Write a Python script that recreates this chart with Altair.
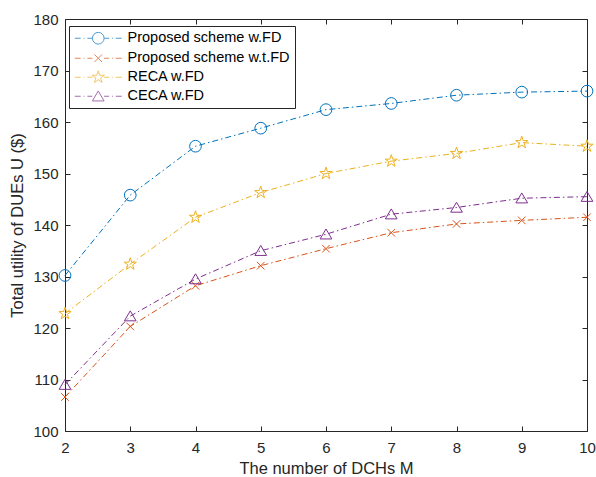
import altair as alt
import pandas as pd

M = [2, 3, 4, 5, 6, 7, 8, 9, 10]
series_names = ["Proposed scheme w.FD", "Proposed scheme w.t.FD", "RECA w.FD", "CECA w.FD"]
proposed_fd = [130.2, 145.8, 155.3, 158.8, 162.4, 163.6, 165.2, 165.8, 166.0]
proposed_tfd = [106.6, 120.3, 128.2, 132.1, 135.4, 138.5, 140.2, 140.9, 141.5]
reca_fd = [122.8, 132.4, 141.5, 146.3, 150.0, 152.4, 153.9, 156.0, 155.3]
ceca_fd = [109.0, 122.3, 129.5, 135.0, 138.2, 142.1, 143.4, 145.2, 145.5]
colors = ["#0072BD", "#D95319", "#EDB120", "#7E2F8E"]
x_ticks = [2, 3, 4, 5, 6, 7, 8, 9, 10]
y_ticks = [100, 110, 120, 130, 140, 150, 160, 170, 180]

rows = []
for name, vals in zip(series_names, [proposed_fd, proposed_tfd, reca_fd, ceca_fd]):
    for m, v in zip(M, vals):
        rows.append({"M": m, "U": v, "series": name})
df = pd.DataFrame(rows)

circle = "M1,0A1,1 0 1,1 -1,0A1,1 0 1,1 1,0Z"
xmark = "M-0.65,-0.65L0.65,0.65M-0.65,0.65L0.65,-0.65"
star = ("M0,-1.1L0.247,-0.34L1.046,-0.34L0.4,0.13L0.647,0.89L0,0.42L-0.647,0.89"
        "L-0.4,0.13L-1.046,-0.34L-0.247,-0.34Z")
tri = "M0,-0.9L1,0.8L-1,0.8Z"
markers = [circle, xmark, star, tri]
dashline = "M-4,0L-3,0M-2.5,0L-2.35,0M-1.85,0L-1,0M1,0L1.85,0M2.35,0L2.5,0M3,0L4,0"
legend_syms = [dashline + m for m in markers]

W, H = 522, 412
FONT = "Liberation Sans"
AX = "#262626"
INWARD = alt.ExprRef(expr="-5")

xs = alt.Scale(domain=[2, 10], nice=False, zero=False)
ys = alt.Scale(domain=[100, 180], nice=False, zero=False)
cscale = alt.Scale(domain=series_names, range=colors)

base = alt.Chart(df)

lines = base.mark_line(strokeWidth=1, strokeDash=[6, 3, 1.5, 3]).encode(
    x=alt.X("M:Q", scale=xs, axis=alt.Axis(
        orient="bottom", values=x_ticks, format="d", ticks=True, tickSize=INWARD,
        tickColor=AX, tickWidth=1,
        domain=False, labelPadding=14, labelFontSize=15, labelColor=AX, labelFlush=False,
        title="The number of DCHs M", titleFontSize=16.5, titleFontWeight="normal",
        titleColor=AX, titlePadding=5)),
    y=alt.Y("U:Q", scale=ys, axis=alt.Axis(
        orient="left", values=y_ticks, format="d", ticks=True, tickSize=INWARD,
        tickColor=AX, tickWidth=1,
        domain=False, labelPadding=12, labelFontSize=15, labelColor=AX, labelFlush=False,
        title="Total utility of DUEs U ($)", titleFontSize=16.5, titleFontWeight="normal",
        titleColor=AX, titlePadding=7)),
    color=alt.Color("series:N", scale=cscale, legend=None),
    detail="series:N",
)

points = base.mark_point(filled=False, size=137, strokeWidth=1, opacity=1).encode(
    x=alt.X("M:Q", scale=xs, axis=None),
    y=alt.Y("U:Q", scale=ys, axis=None),
    color=alt.Color("series:N", scale=cscale, legend=None),
    shape=alt.Shape("series:N", scale=alt.Scale(domain=series_names, range=markers), legend=None),
)

tick_common = dict(labels=False, domain=False, ticks=True, tickSize=INWARD,
                   tickWidth=1, tickColor=AX, title=None, grid=False)

mirror = base.mark_point(opacity=0).encode(
    x=alt.X("M:Q", scale=xs, axis=alt.Axis(orient="top", values=x_ticks, **tick_common)),
    y=alt.Y("U:Q", scale=ys, axis=alt.Axis(orient="right", values=y_ticks, **tick_common)),
)

leg = alt.Legend(
    title=None, orient="none", legendX=4, legendY=7,
    fillColor="white", strokeColor=AX, padding=5, cornerRadius=0,
    labelFont=FONT, labelFontSize=14.5, labelColor="black", labelLimit=400,
    symbolStrokeWidth=1, symbolSize=137, symbolOffset=17, labelOffset=22,
    rowPadding=3,
)
dummy = base.transform_filter("false").mark_point(filled=False, size=137, strokeWidth=1).encode(
    x=alt.X("M:Q", scale=xs, axis=None),
    y=alt.Y("U:Q", scale=ys, axis=None),
    color=alt.Color("series:N", scale=cscale, legend=leg),
    shape=alt.Shape("series:N", scale=alt.Scale(domain=series_names, range=legend_syms), legend=leg),
)

chart = alt.layer(lines, points, mirror, dummy).resolve_axis(
    x="independent", y="independent"
).resolve_scale(
    color="independent", shape="independent"
).properties(
    width=W, height=H,
    autosize=alt.AutoSizeParams(type="none"),
    padding={"left": 65, "top": 19, "right": 9, "bottom": 46},
    background="white",
).configure_view(
    stroke=AX, strokeWidth=1
).configure_axis(
    grid=False, labelFont=FONT, titleFont=FONT
).configure_legend(
    labelFont=FONT
)

chart.save("out.html", embed_options={"renderer": "svg", "actions": False})
